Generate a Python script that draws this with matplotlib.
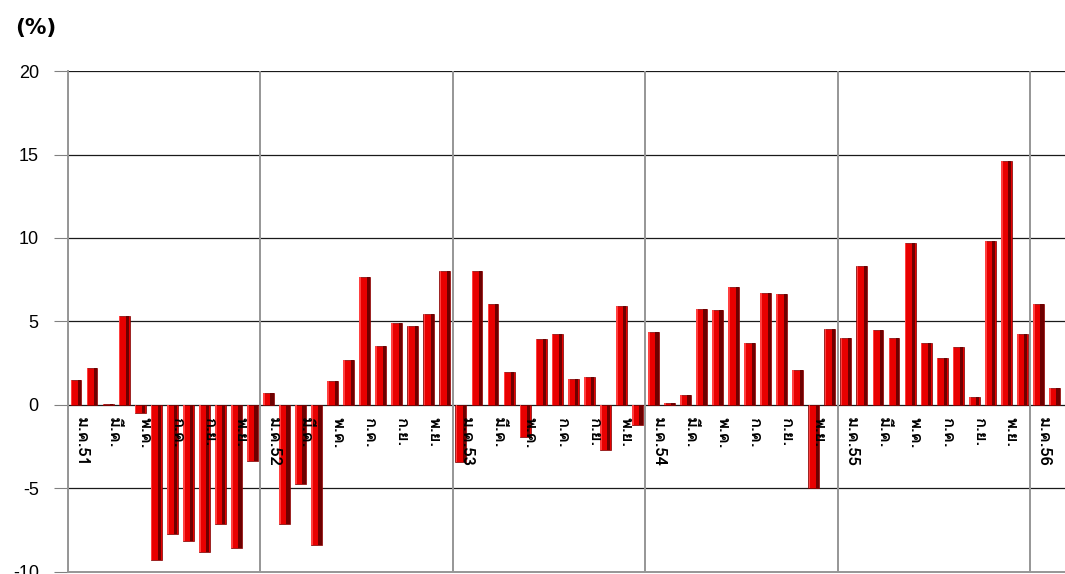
import matplotlib
matplotlib.use("Agg")
import matplotlib.pyplot as plt
import matplotlib.transforms as mtransforms
from matplotlib import font_manager
from matplotlib.ft2font import FT2Font
import numpy as np

# === Data: monthly change (%), Jan 2008 (ม.ค.51) onwards ===
values = [
    1.5, 2.2, 0.05, 5.35, -0.47, -9.27, -7.7, -8.17, -8.8, -7.1, -8.55, -3.33,   # 2551
    0.69, -7.15, -4.73, -8.37, 1.41, 2.67, 7.65, 3.55, 4.91, 4.75, 5.45, 8.0,    # 2552
    -3.43, 8.05, 6.05, 1.99, -1.93, 3.95, 4.23, 1.57, 1.69, -2.69, 5.93, -1.19,  # 2553
    4.35, 0.11, 0.61, 5.75, 5.67, 7.09, 3.71, 6.73, 6.65, 2.11, -4.97, 4.57,     # 2554
    4.01, 8.33, 4.47, 3.99, 9.69, 3.71, 2.81, 3.49, 0.49, 9.85, 14.61, 4.27,     # 2555
    6.03, 1.03, 5.2,                                                             # 2556
]
month_names = ["ม.ค.", "ก.พ.", "มี.ค.", "เม.ย.", "พ.ค.", "มิ.ย.",
               "ก.ค.", "ส.ค.", "ก.ย.", "ต.ค.", "พ.ย.", "ธ.ค."]
years = ["51", "52", "53", "54", "55", "56"]
y_ticks = [-10, -5, 0, 5, 10, 15, 20]


# === Font with Thai glyphs ===
def find_thai_font():
    for f in font_manager.fontManager.ttflist:
        try:
            if 0x0E21 in FT2Font(f.fname).get_charmap():
                return f.name
        except Exception:
            pass
    return None

thai = find_thai_font()
families = ([thai] if thai else []) + ["Liberation Sans", "DejaVu Sans"]
plt.rcParams["font.family"] = ["Liberation Sans", "DejaVu Sans"]

# === Figure ===
fig = plt.figure(figsize=(10.65, 5.74), dpi=100)
ax = fig.add_axes([0.0638, 0.0035, 0.9362, 0.8728])

x = np.arange(len(values))
vals = np.array(values)
w = 0.68
ax.bar(x, vals, width=w, color="#e80000", edgecolor="#7a0000", linewidth=0.5, zorder=3)
# bevel look: light left strip, dark right strip
ax.bar(x - w / 2 + 0.06, vals, width=0.1, color="#ff4040", linewidth=0, zorder=3)
ax.bar(x + w / 2 - 0.12, vals, width=0.2, color="#6e0000", linewidth=0, zorder=3)

ax.set_xlim(-0.5, 61.66)
ax.set_ylim(-10, 20)
ax.set_yticks(y_ticks)
ax.set_yticklabels([str(t) for t in y_ticks], fontsize=13)
ax.tick_params(axis="y", length=10, width=0.8, color="#808080", pad=11)
ax.set_xticks([])

for v in y_ticks[1:]:
    ax.axhline(v, color="#1a1a1a", linewidth=0.9, zorder=1)
for b in range(0, 72, 12):
    ax.axvline(b - 0.5, color="#969696", linewidth=1.4, zorder=1)

for s in ["top", "right"]:
    ax.spines[s].set_visible(False)
ax.spines["left"].set_color("#969696")
ax.spines["left"].set_linewidth(1.4)
ax.spines["bottom"].set_color("#969696")
ax.spines["bottom"].set_linewidth(1.4)

# === Month labels at zero line ===
trans = mtransforms.offset_copy(ax.transData, fig=fig, x=5, y=-12, units="dots")
for i in range(0, len(values), 2):
    m = i % 12
    lab = month_names[m] + (years[i // 12] if m == 0 else "")
    ax.text(i, 0, lab, transform=trans, rotation=-90, ha="center", va="top",
            fontsize=12, fontweight="bold", family=families, zorder=5)

fig.text(15 / 1065, 1 - 28 / 574, "(%)", fontsize=15.5, fontweight="bold",
         family="DejaVu Sans", va="center", ha="left")

fig.savefig("out.png", dpi=100, facecolor="white")
